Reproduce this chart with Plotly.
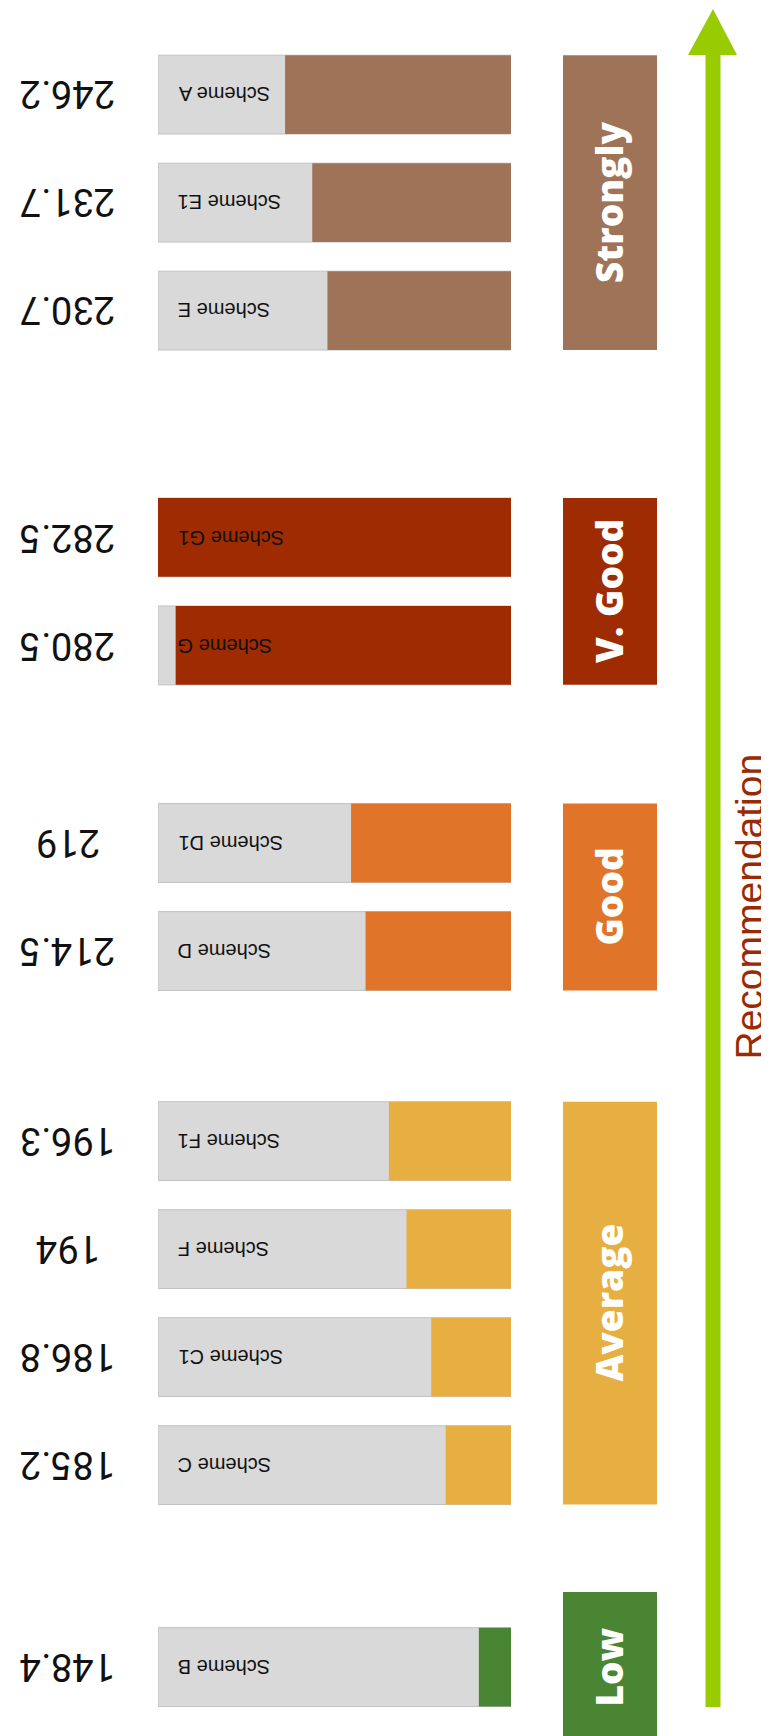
import plotly.graph_objects as go

# data
schemes = ["Scheme A", "Scheme E1", "Scheme E", "Scheme G1", "Scheme G", "Scheme D1",
           "Scheme D", "Scheme F1", "Scheme F", "Scheme C1", "Scheme C", "Scheme B"]
scores = [246.2, 231.7, 230.7, 282.5, 280.5, 219, 214.5, 196.3, 194, 186.8, 185.2, 148.4]
fill_pct = [64.0, 56.3, 52.0, 100, 95.0, 45.3, 41.2, 34.6, 29.6, 22.6, 18.5, 9.1]
levels = ["Strongly", "Strongly", "Strongly", "V. Good", "V. Good", "Good", "Good",
          "Average", "Average", "Average", "Average", "Low"]
level_names = ["Strongly", "V. Good", "Good", "Average", "Low"]

# styling / layout (pixel values are page pixels, the page has an 8px body margin)
W, H = 769, 1736
OFF = 8
level_colors = {
    "Strongly": "#9f7358",
    "V. Good": "#9e2b02",
    "Good": "#e07428",
    "Average": "#e7ae42",
    "Low": "#4a8534",
}
level_gap = {"Strongly": 0, "V. Good": 1.1, "Good": 0.83, "Average": 0.76, "Low": 0.87}
BAR_W = 0.73
MIN_BOX = 1.39
PITCH = 108.0      # px per row
FIRST_ROW_PX = 94.6 - OFF


def px_x(v):
    return (v - OFF) / W


def px_y(v):
    return 1 - (v - OFF) / H


rows = []
p = 0.0
prev = None
for lv in levels:
    if prev is not None:
        p += 1
        if lv != prev:
            p += level_gap[lv]
    rows.append(p)
    prev = lv

box_base, box_len, box_mid = [], [], []
for lv in level_names:
    r = [rows[i] for i, l in enumerate(levels) if l == lv]
    top, bot = min(r) - BAR_W / 2, max(r) + BAR_W / 2
    if bot - top < MIN_BOX:
        c = (top + bot) / 2
        top, bot = c - MIN_BOX / 2, c + MIN_BOX / 2
    box_base.append(top)
    box_len.append(bot - top)
    box_mid.append((top + bot) / 2)

fig = go.Figure()

# grey tracks
fig.add_trace(go.Bar(
    y=rows, x=[100] * len(rows), base=0, orientation="h", width=BAR_W,
    marker=dict(color="#d9d9d9", line=dict(color="#c2c2c2", width=1)),
    hoverinfo="skip", showlegend=False,
))
# coloured fill
fig.add_trace(go.Bar(
    y=rows, x=fill_pct, base=0, orientation="h", width=BAR_W,
    marker=dict(color=[level_colors[l] for l in levels], line=dict(width=0)),
    text=schemes, hoverinfo="text", textposition="none", showlegend=False,
))
# level boxes
fig.add_trace(go.Bar(
    x=[0] * len(level_names), y=box_len, base=box_base, width=1,
    xaxis="x2", yaxis="y",
    marker=dict(color=[level_colors[l] for l in level_names], line=dict(width=0)),
    hoverinfo="skip", showlegend=False,
))

annotations = []
for name, sc, r in zip(schemes, scores, rows):
    annotations.append(dict(
        x=100, y=r, xref="x", yref="y", text=name, showarrow=False,
        xanchor="left", xshift=18, textangle=180,
        font=dict(family="Liberation Sans", size=20, color="#111111"),
    ))
    annotations.append(dict(
        x=px_x(68), y=r, xref="paper", yref="y", text=f"{sc:g}", showarrow=False,
        xanchor="center", textangle=180,
        font=dict(family="Roboto", size=38, color="#111111"),
    ))
for lv, m in zip(level_names, box_mid):
    annotations.append(dict(
        x=px_x(636), y=m, xref="paper", yref="y", text=lv, showarrow=False,
        textangle=-90,
        font=dict(family="Open Sans", size=37, color="white", weight=800),
    ))
annotations.append(dict(
    x=px_x(772), y=px_y(907), xref="paper", yref="paper", text="Recommendation",
    showarrow=False, textangle=-90,
    font=dict(family="Liberation Sans", size=39, color="#9a2a05"),
))

arrow_c = "#99cc00"
shapes = [
    dict(type="rect", xref="paper", yref="paper",
         x0=px_x(705.5), x1=px_x(720.5), y0=px_y(1707), y1=px_y(54),
         fillcolor=arrow_c, line=dict(width=0)),
    dict(type="path", xref="paper", yref="paper",
         path=(f"M {px_x(688)},{px_y(55)} L {px_x(737)},{px_y(55)} "
               f"L {px_x(713)},{px_y(9)} Z"),
         fillcolor=arrow_c, line=dict(width=0)),
]

fig.update_layout(
    width=W, height=H,
    margin=dict(l=0, r=0, t=0, b=0),
    paper_bgcolor="white", plot_bgcolor="rgba(0,0,0,0)",
    barmode="overlay",
    xaxis=dict(domain=[px_x(158), px_x(511)], range=[100, 0], visible=False,
               fixedrange=True),
    xaxis2=dict(domain=[px_x(563), px_x(657)], range=[-0.5, 0.5], visible=False,
                anchor="y", fixedrange=True),
    yaxis=dict(range=[(H - FIRST_ROW_PX) / PITCH, -FIRST_ROW_PX / PITCH],
               visible=False, fixedrange=True),
    annotations=annotations,
    shapes=shapes,
)

fig.write_html("out.html")
